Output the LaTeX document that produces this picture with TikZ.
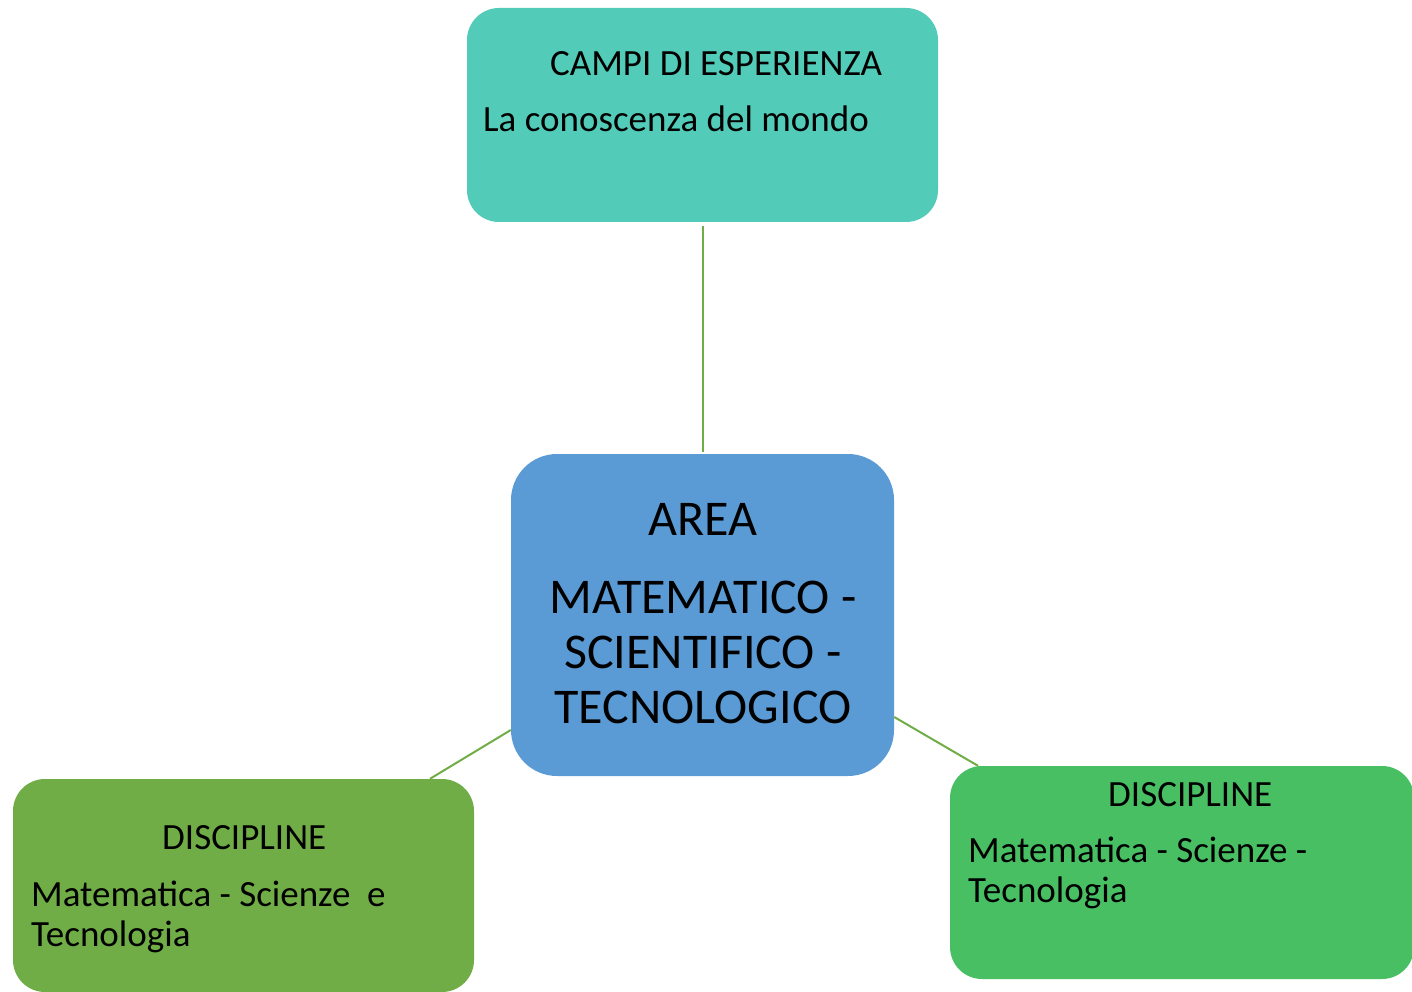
\documentclass[tikz,border=0pt]{standalone}
\usepackage{fontspec}
\setmainfont{Carlito}
\definecolor{teal1}{HTML}{53CBB9}
\definecolor{blue1}{HTML}{5B9BD5}
\definecolor{green1}{HTML}{70AD47}
\definecolor{green2}{HTML}{48BF63}
\tikzset{
  box/.style={draw=none, rounded corners=32pt, inner sep=0pt},
  txt/.style={anchor=base west, inner sep=0pt, font=\fontsize{37}{40}\selectfont},
  big/.style={anchor=base, inner sep=0pt, font=\fontsize{50}{55}\selectfont},
  link/.style={draw=green1, line width=2pt}
}
\begin{document}
\begin{tikzpicture}[x=1pt,y=-1pt]
\useasboundingbox (0,0) rectangle (1412,992);
% boxes
\node[box, fill=teal1, minimum width=471pt, minimum height=214pt] (top) at (702.5,115) {};
\node[box, fill=blue1, rounded corners=46pt, minimum width=383pt, minimum height=322pt] (ctr) at (702.5,615) {};
\node[box, fill=green1, minimum width=461pt, minimum height=213pt] (bl) at (243.5,885.5) {};
\node[box, fill=green2, minimum width=464pt, minimum height=213pt] (br) at (1182,872.5) {};
% connectors
\draw[link, shorten <=4pt, shorten >=2pt] (top.south) -- (ctr.north);
\draw[link] (ctr.west |- 0,730) -- (bl.north -| 430,0);
\draw[link] (ctr.east |- 0,717) -- (br.north -| 978,0);
% texts
\node[txt] (t1) at (550,76) {CAMPI DI ESPERIENZA};
\node[txt] (t2) at (483,132) {La conoscenza del mondo};
\node[big] (c1) at (703,535) {AREA};
\node[big] (c2) at (703,613) {MATEMATICO -};
\node[big] (c3) at (703,668) {SCIENTIFICO -};
\node[big] (c4) at (703,723) {TECNOLOGICO};
\node[txt] (l1) at (162,849) {DISCIPLINE};
\node[txt] (l2) at (31,906) {Matematica - Scienze \ e};
\node[txt] (l3) at (31,946) {Tecnologia};
\node[txt] (r1) at (1108,806) {DISCIPLINE};
\node[txt] (r2) at (968,862) {Matematica - Scienze -};
\node[txt] (r3) at (968,902) {Tecnologia};
\end{tikzpicture}
\end{document}
